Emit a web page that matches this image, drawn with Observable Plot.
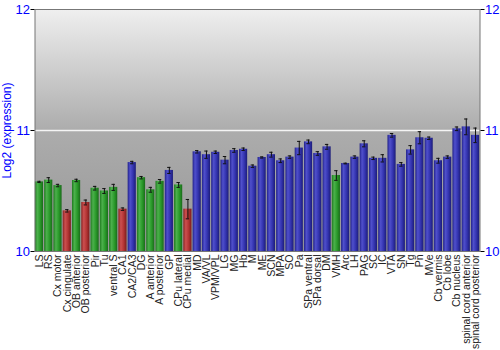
<!DOCTYPE html>
<html>
<head>
<meta charset="utf-8">
<script src="https://cdn.jsdelivr.net/npm/d3@7"></script>
<script src="https://cdn.jsdelivr.net/npm/@observablehq/plot@0.6"></script>
<style>
  html, body { margin: 0; padding: 0; background: white; }
</style>
</head>
<body>
<div id="chart"></div>
<script>
const categories = ["LS","RS","Cx motor","Cx cingulate","OB anterior","OB posterior","Pir","Tu","ventral S","CA1","CA2/CA3","DG","A anterior","A posterior","GP","CPu lateral","CPu medial","MD","VA/VL","VPM/VPL","LG","MG","Hb","M","ME","SCN","MPA","SO","Pa","SPa ventral","SPa dorsal","DM","VMH","Arc","LH","PAG","SC","IC","VTA","SN","Tg","Pn","MVe","Cb vermis","Cb lobe","Cb nucleus","spinal cord anterior","spinal cord posterior"];
const values = [10.575,10.59,10.545,10.336,10.587,10.405,10.523,10.50,10.53,10.35,10.735,10.61,10.51,10.58,10.67,10.55,10.35,10.824,10.80,10.82,10.755,10.835,10.845,10.705,10.777,10.80,10.75,10.78,10.855,10.906,10.81,10.865,10.628,10.727,10.78,10.89,10.77,10.77,10.96,10.72,10.84,10.94,10.936,10.75,10.78,11.014,11.03,10.96];
const errors = [0.005,0.02,0.01,0.01,0.01,0.02,0.015,0.02,0.025,0.01,0.01,0.01,0.02,0.015,0.025,0.02,0.08,0.01,0.03,0.01,0.03,0.015,0.01,0.01,0.005,0.02,0.015,0.01,0.055,0.015,0.015,0.02,0.04,0.003,0.01,0.025,0.01,0.03,0.015,0.015,0.035,0.05,0.01,0.02,0.01,0.015,0.065,0.06];
const groups = ["g","g","g","r","g","r","g","g","g","r","b","g","g","g","b","g","r","b","b","b","b","b","b","b","b","b","b","b","b","b","b","b","g","b","b","b","b","b","b","b","b","b","b","b","b","b","b","b"];
const yTicks = [10, 11, 12];
const yLabel = "Log2 (expression)";

const groupFill = {g: "url(#gradG)", r: "url(#gradR)", b: "url(#gradB)"};
const data = categories.map((name, i) => ({name, value: values[i], err: errors[i], group: groups[i]}));

function defsMark() {
  const defs = d3.create("svg:defs");
  const bg = defs.append("linearGradient").attr("id", "bgGrad").attr("x1", 0).attr("y1", 0).attr("x2", 0).attr("y2", 1);
  [[0, "#efefef"], [0.5, "#acacac"], [1, "#979797"]].forEach(([o, c]) => bg.append("stop").attr("offset", o).attr("stop-color", c));
  const specs = {
    gradG: ["#1f7a1f", "#4cb04c", "#2a9a2a", "#1a6a1a"],
    gradR: ["#8a2222", "#cc5050", "#b33434", "#7a1c1c"],
    gradB: ["#22228a", "#5050cc", "#3434b0", "#1c1c78"]
  };
  for (const [id, [c0, c1, c2, c3]] of Object.entries(specs)) {
    const g = defs.append("linearGradient").attr("id", id).attr("x1", 0).attr("y1", 0).attr("x2", 1).attr("y2", 0);
    [[0, c0], [0.3, c1], [0.65, c2], [1, c3]].forEach(([o, c]) => g.append("stop").attr("offset", o).attr("stop-color", c));
  }
  return defs.node();
}

const chart = Plot.plot({
  width: 500,
  height: 350,
  marginLeft: 34.5,
  marginRight: 20.5,
  marginTop: 9,
  marginBottom: 99,
  style: {background: "white", fontFamily: "'Liberation Sans', Arial, sans-serif"},
  x: {domain: categories, paddingInner: 0.12, paddingOuter: 0.04, round: false, label: null},
  y: {domain: [10, 12], label: null},
  color: {type: "identity"},
  marks: [
    defsMark,
    Plot.frame({fill: "url(#bgGrad)", stroke: "none"}),
    Plot.ruleY([11], {stroke: "#f4f4f4", strokeWidth: 1.5}),
    Plot.barY(data, {x: "name", y1: 10, y2: "value", fill: d => groupFill[d.group]}),
    Plot.ruleX(data, {x: "name", y1: d => d.value - d.err, y2: d => d.value + d.err, stroke: "#111", strokeWidth: 1}),
    Plot.tickY(data, {x: "name", y: d => d.value - d.err, stroke: "#111", insetLeft: 2.4, insetRight: 2.4}),
    Plot.tickY(data, {x: "name", y: d => d.value + d.err, stroke: "#111", insetLeft: 2.4, insetRight: 2.4}),
    Plot.frame({stroke: "#777", strokeWidth: 1}),
    Plot.axisX({tickRotate: -90, tickSize: 0, tickPadding: 3, fontSize: 10.5, fill: "#222", label: null}),
    Plot.axisY({anchor: "left", ticks: yTicks, tickFormat: d3.format("d"), tickSize: 4, tickPadding: 1, fill: "blue", fontSize: 13,
      label: yLabel, labelAnchor: "center", labelOffset: 33, labelArrow: "none"}),
    Plot.axisY({anchor: "right", ticks: yTicks, tickFormat: d3.format("d"), tickSize: 4, tickPadding: 1, fill: "blue", fontSize: 13, label: null})
  ]
});

d3.select(chart).selectAll("[aria-label='y-axis label'] text").attr("font-size", 12);
document.getElementById("chart").appendChild(chart);
</script>
</body>
</html>
